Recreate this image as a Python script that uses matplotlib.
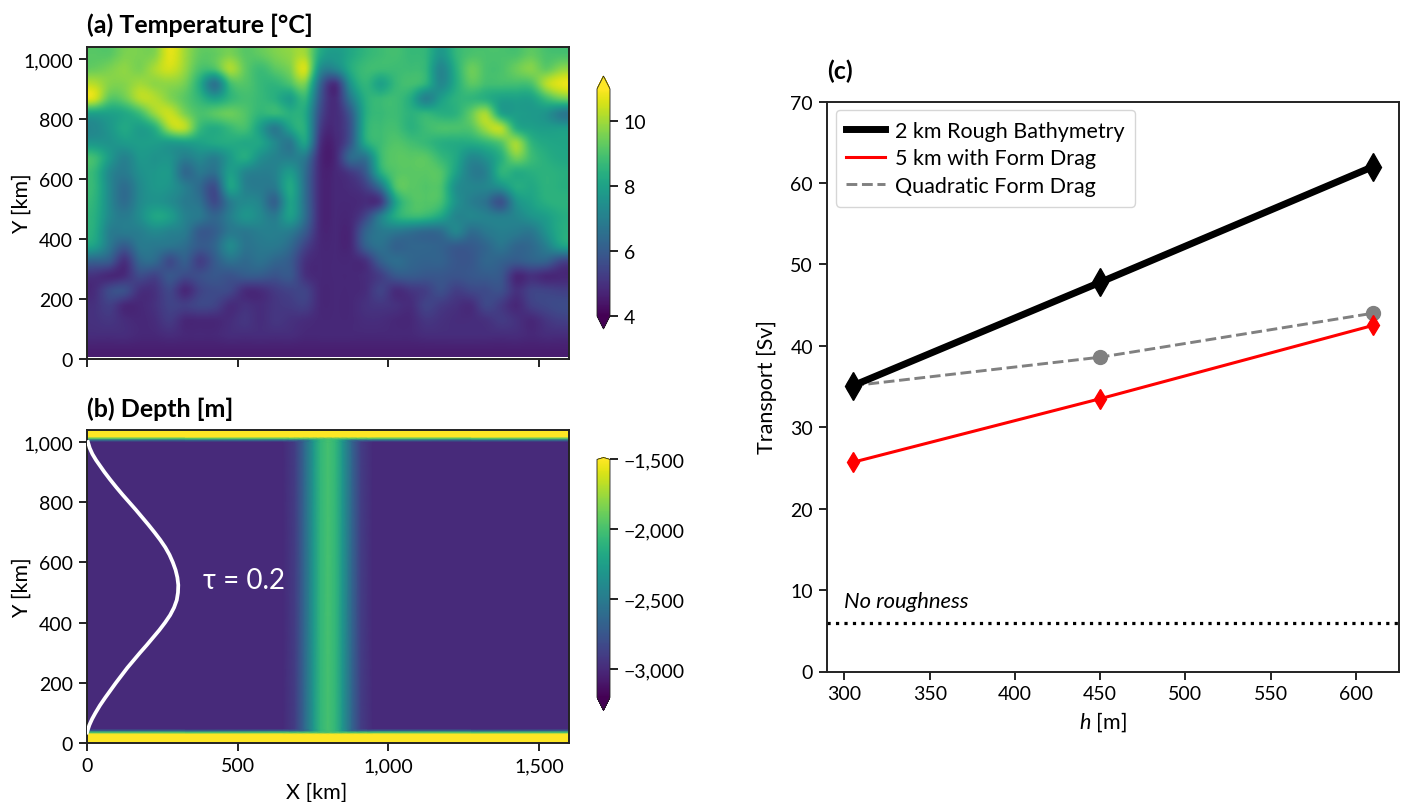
import numpy as np
import matplotlib
matplotlib.use("Agg")
import matplotlib.pyplot as plt
from matplotlib.lines import Line2D
from matplotlib.ticker import FuncFormatter

plt.rcParams['font.family'] = ['Lato', 'DejaVu Sans']
plt.rcParams['mathtext.fontset'] = 'custom'
plt.rcParams['mathtext.rm'] = 'Lato'
plt.rcParams['mathtext.it'] = 'Lato:italic'
plt.rcParams['axes.edgecolor'] = '#222222'

# (a) temperature: 32 columns x 21 rows, top row first
temperature = [
 [9.2,9.2,9.6,9.6,9.7,10.7,10.0,9.3,9.3,9.6,9.2,9.3,9.6,9.8,10.0,8.2, 7.8,8.2,8.6,8.8,8.9,8.7,8.6,7.7,8.6,9.0,9.0,9.0,9.0,9.3,9.0,9.0],
 [9.4,9.6,9.8,9.6,10.1,10.5,9.9,9.0,9.0,10.1,9.3,8.8,9.2,9.6,10.5,7.4, 7.2,8.3,8.8,8.8,8.8,8.8,8.6,7.2,8.4,9.4,9.0,9.0,9.4,9.7,9.3,9.8],
 [10.2,9.7,9.7,10.0,9.8,9.8,9.5,8.3,6.7,8.8,9.1,8.7,8.6,9.0,9.5,6.3, 5.0,7.6,8.6,8.0,8.7,8.9,8.5,7.3,8.3,9.2,8.9,8.9,8.9,9.0,10.2,10.7],
 [10.5,9.2,9.4,10.2,10.2,9.7,9.2,8.6,8.0,8.6,8.9,8.7,8.4,7.9,8.6,5.9, 4.9,6.8,8.4,8.7,8.8,8.3,7.1,7.9,8.5,8.6,8.4,8.0,8.0,8.0,8.8,9.4],
 [8.0,8.0,8.2,8.8,9.9,10.4,9.6,9.0,9.2,9.4,9.1,8.6,8.7,8.4,8.2,5.6, 4.9,6.0,8.3,8.7,8.8,8.5,8.6,8.4,8.5,9.3,10.0,8.1,7.9,7.8,7.6,6.9],
 [7.3,7.7,8.2,7.9,8.4,10.0,10.2,8.7,8.3,8.7,8.9,7.9,6.9,8.0,8.3,5.3, 4.9,5.8,8.4,8.8,8.9,8.5,8.8,9.0,9.0,9.1,10.0,10.2,8.4,8.0,7.9,7.9],
 [7.7,7.6,7.8,7.9,7.9,7.8,7.9,8.0,8.2,8.3,8.2,8.1,7.3,6.8,8.0,5.0, 4.8,5.9,8.2,8.8,9.1,8.9,8.7,8.4,8.3,8.3,8.6,9.1,10.0,8.6,8.2,8.1],
 [8.8,7.8,7.1,7.7,7.6,7.6,7.0,7.3,7.0,7.8,8.3,7.5,7.1,7.0,6.8,4.8, 4.8,6.4,6.7,8.7,9.2,9.2,9.2,8.7,8.2,7.3,7.6,8.4,9.5,8.8,8.4,8.2],
 [8.6,7.3,6.9,7.5,7.7,7.7,6.4,6.8,6.6,7.9,7.2,7.0,7.1,7.8,6.5,4.8, 4.8,5.2,6.0,8.3,9.1,9.2,9.2,9.1,8.0,7.0,7.1,8.5,8.3,8.4,8.5,8.4],
 [8.6,7.3,6.5,7.3,7.7,7.6,7.0,6.4,5.7,8.0,7.1,6.9,6.9,8.2,6.5,4.8, 4.8,4.9,5.3,6.6,9.0,9.2,9.1,9.0,7.5,7.2,7.2,7.5,8.3,8.2,8.5,8.4],
 [8.5,7.3,6.5,7.3,7.6,7.4,6.9,6.6,5.6,6.9,7.3,7.1,6.2,8.0,6.5,4.8, 4.8,4.8,4.9,5.2,8.0,9.0,9.1,8.9,7.6,7.0,6.6,5.8,7.5,8.0,8.4,8.5],
 [8.4,7.3,6.9,7.4,8.1,7.9,7.1,6.8,6.3,7.0,7.6,7.3,6.9,7.9,6.5,4.8, 4.8,4.8,5.5,7.0,8.3,8.7,8.6,8.1,7.2,7.2,7.1,7.0,7.2,7.6,7.9,8.3],
 [8.3,7.0,6.9,7.0,7.3,7.1,6.9,6.0,6.1,6.8,6.8,7.0,7.0,6.9,6.0,4.8, 4.8,4.8,6.2,6.8,6.8,6.6,6.4,6.5,7.2,6.5,6.8,7.0,6.9,6.8,7.6,8.3],
 [7.9,6.8,6.0,6.8,6.8,6.7,6.5,6.0,6.3,7.3,6.7,6.8,6.8,6.4,5.4,4.8, 4.8,4.8,6.1,6.6,6.2,6.3,6.3,6.2,6.0,6.0,6.3,6.7,6.3,6.4,7.0,7.9],
 [6.2,6.0,5.0,6.3,6.4,5.6,6.1,5.3,6.0,6.6,6.4,6.6,6.3,6.0,5.0,4.8, 4.8,4.8,5.0,6.1,6.5,6.3,6.2,6.2,5.9,5.9,6.3,6.2,6.0,6.2,6.2,5.5],
 [5.0,4.8,4.9,5.6,5.4,5.9,5.6,5.7,5.9,5.8,6.0,6.0,5.8,5.9,5.0,4.8, 4.8,4.8,4.9,5.3,5.9,6.0,5.9,5.9,5.8,5.9,6.0,5.9,4.8,5.0,4.8,4.8],
 [4.9,5.6,5.7,5.0,5.0,5.5,4.8,5.4,5.6,5.5,4.9,4.9,5.2,5.4,5.4,4.8, 4.8,4.8,4.9,5.4,4.9,5.1,5.3,5.7,5.3,5.5,5.6,5.7,5.0,5.4,5.4,5.3],
 [5.0,5.3,4.8,4.8,5.0,5.4,5.3,5.5,5.4,4.9,5.0,4.9,5.1,5.2,5.3,4.8, 4.8,4.8,5.0,5.1,5.0,4.9,5.4,5.2,5.0,4.9,5.5,5.2,4.8,5.3,5.5,5.6],
 [5.0,5.1,4.9,4.8,4.9,5.2,4.8,4.8,4.8,4.9,5.1,4.9,5.1,5.0,4.9,4.8, 4.8,4.8,4.9,4.9,4.8,4.8,5.1,5.0,4.9,4.9,5.0,5.2,5.0,4.8,5.1,5.3],
 [4.9,4.9,4.9,4.8,4.8,4.9,4.8,4.8,4.8,4.9,4.9,4.9,4.9,4.9,4.8,4.8, 4.8,4.8,4.8,4.8,4.8,4.8,4.9,4.9,4.9,4.9,4.9,4.9,4.9,4.8,4.9,4.9],
 [4.6,4.6,4.6,4.6,4.6,4.6,4.6,4.6,4.6,4.6,4.6,4.6,4.6,4.6,4.6,4.6, 4.6,4.6,4.6,4.6,4.6,4.6,4.6,4.6,4.6,4.6,4.6,4.6,4.6,4.6,4.6,4.6],
]

# (b) bathymetry: ridge profile along x, wall profile along y
ridge_x = [0, 650, 690, 720, 752, 775, 800, 825, 848, 880, 910, 950, 1600]
ridge_depth = [-3000, -3000, -2900, -2650, -2300, -2080, -2000, -2080, -2300, -2650, -2900, -3000, -3000]
wall_y = [0, 30, 36, 42, 48, 1000, 1006, 1012, 1018, 1040]
wall_depth = [-1500, -1500, -2000, -2700, -3000, -3000, -2700, -2000, -1500, -1500]

# wind stress curve
tau_y = [35, 45, 60, 80, 100, 125, 150, 175, 200, 225, 250, 275, 300, 325, 350, 375, 400, 425, 450, 475, 500,
         525, 550, 575, 600, 625, 650, 675, 700, 725, 750, 775, 800, 825, 850, 875, 900, 920, 940, 960, 980, 1000]
tau_x = [0, 3, 8, 17, 28, 43, 60, 78, 96, 115, 134, 155, 176, 198, 219, 240, 259, 276, 289, 298, 302,
         303, 300, 294, 285, 274, 260, 243, 224, 204, 183, 162, 140, 118, 97, 77, 58, 44, 30, 18, 9, 3]

# (c) transport
h_values = [305, 450, 610]
rough_2km = [35.1, 47.8, 62.0]
form_drag_5km = [25.7, 33.5, 42.5]
quadratic_drag = [35.1, 38.6, 44.0]
no_roughness = 6.0

W, H = 1403, 803
fig = plt.figure(figsize=(W / 100, H / 100), dpi=100)

def place(x0, y_top, x1, y_bot):
    return fig.add_axes([x0 / W, 1 - y_bot / H, (x1 - x0) / W, (y_bot - y_top) / H])

comma = FuncFormatter(lambda v, _: f"{v:,.0f}".replace('-', '\u2212'))
FS = 14
LABEL_FS = 15.5
TITLE_FS = 18
LW = 1.4

def style(ax):
    ax.tick_params(length=6, width=LW, labelsize=FS, pad=4, color='#222222')
    for s in ax.spines.values():
        s.set_linewidth(LW)

# panel a
ax_a = place(87, 48, 569, 360)
im_a = ax_a.imshow(temperature, cmap='viridis', vmin=4, vmax=11, aspect='auto',
                   extent=(0, 1600, 8, 1040), origin='upper', interpolation='spline16')
ax_a.set_xlim(0, 1600)
ax_a.set_ylim(0, 1040)
ax_a.set_xticks([0, 500, 1000, 1500])
ax_a.set_xticklabels([])
ax_a.set_yticks([0, 200, 400, 600, 800, 1000])
ax_a.yaxis.set_major_formatter(comma)
ax_a.set_ylabel('Y [km]', fontsize=LABEL_FS)
ax_a.yaxis.set_label_coords(-0.114, 0.5)
style(ax_a)
ax_a.text(0, 1.073, '(a) Temperature [°C]', transform=ax_a.transAxes, fontsize=TITLE_FS,
          fontweight='bold', ha='left', va='center')

cax_a = place(597, 77, 610, 330)
cb_a = fig.colorbar(im_a, cax=cax_a, extend='both', extendfrac=[0.057, 0.057], ticks=[4, 6, 8, 10])
cb_a.ax.tick_params(length=6, width=LW, labelsize=FS, pad=4, color='#222222')
cb_a.outline.set_linewidth(0.6)

# panel b
ax_b = place(87, 431, 569, 744)
depth = np.maximum.outer(wall_depth, ridge_depth)
im_b = ax_b.pcolormesh(ridge_x, wall_y, depth, cmap='viridis', vmin=-3200, vmax=-1500, shading='gouraud')
ax_b.plot(tau_x, tau_y, color='white', lw=2.7, zorder=3)
ax_b.text(385, 540, '\u03c4 = 0.2', color='white', fontsize=20, ha='left', va='center')
ax_b.set_xlim(0, 1600)
ax_b.set_ylim(0, 1040)
ax_b.set_xticks([0, 500, 1000, 1500])
ax_b.set_yticks([0, 200, 400, 600, 800, 1000])
ax_b.xaxis.set_major_formatter(comma)
ax_b.yaxis.set_major_formatter(comma)
ax_b.set_xlabel('X [km]', fontsize=LABEL_FS)
ax_b.xaxis.set_label_coords(0.477, -0.122)
ax_b.set_ylabel('Y [km]', fontsize=LABEL_FS)
ax_b.yaxis.set_label_coords(-0.114, 0.5)
style(ax_b)
ax_b.text(0, 1.07, '(b) Depth [m]', transform=ax_b.transAxes, fontsize=TITLE_FS,
          fontweight='bold', ha='left', va='center')

cax_b = place(597, 458.5, 610, 711.5)
cb_b = fig.colorbar(im_b, cax=cax_b, extend='both', extendfrac=[0.055, 0.008],
                    ticks=[-3000, -2500, -2000, -1500], format=comma)
cb_b.ax.tick_params(length=6, width=LW, labelsize=FS, pad=4, color='#222222')
cb_b.outline.set_linewidth(0.6)

# panel c
ax_c = place(827, 102.5, 1399, 672.5)
ax_c.plot(h_values, rough_2km, color='black', lw=5, marker='d', ms=14, label='2 km Rough Bathymetry', zorder=4)
ax_c.plot(h_values, form_drag_5km, color='red', lw=2.2, marker='d', ms=10, label='5 km with Form Drag', zorder=3)
ax_c.plot(h_values, quadratic_drag, color='gray', lw=2.1, ls='--', marker='o', ms=10, label='Quadratic Form Drag', zorder=2)
ax_c.axhline(no_roughness, color='black', lw=2.3, ls=':')
ax_c.text(300, 8.7, 'No roughness', fontsize=15.8, style='italic', ha='left', va='center')
ax_c.set_xlim(289.75, 625.25)
ax_c.set_ylim(0, 70)
ax_c.set_xticks([300, 350, 400, 450, 500, 550, 600])
ax_c.set_yticks(range(0, 71, 10))
ax_c.set_xlabel('$h$ [m]', fontsize=LABEL_FS)
ax_c.xaxis.set_label_coords(0.4815, -0.066)
ax_c.set_ylabel('Transport [Sv]', fontsize=LABEL_FS)
ax_c.yaxis.set_label_coords(-0.088, 0.5)
style(ax_c)
ax_c.text(0, 1.054, '(c)', transform=ax_c.transAxes, fontsize=TITLE_FS, fontweight='bold', ha='left', va='center')

handles, labels = ax_c.get_legend_handles_labels()
proxy = [Line2D([], [], color=l.get_color(), lw=l.get_linewidth(), ls=l.get_linestyle()) for l in handles]
ax_c.legend(proxy, labels, loc='upper left', fontsize=15.5, handlelength=1.8, borderaxespad=0.4,
            labelspacing=0.35, handletextpad=0.45, borderpad=0.5)

fig.savefig('out.png', dpi=100)
